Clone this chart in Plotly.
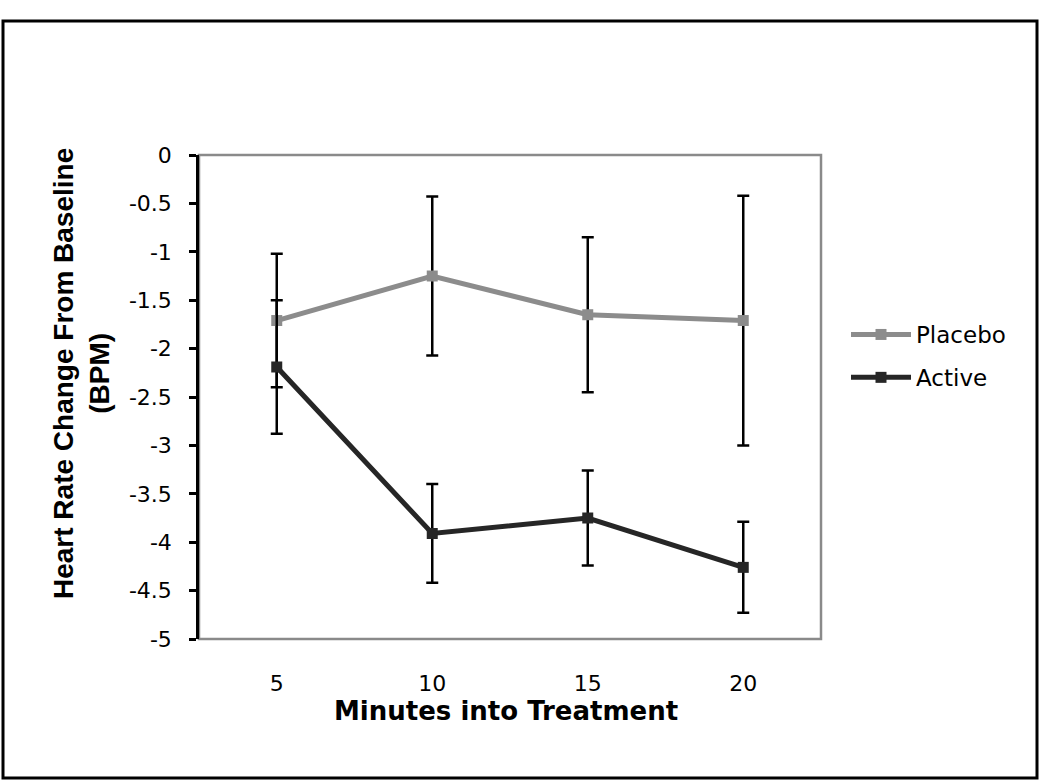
import plotly.graph_objects as go

minutes = [5, 10, 15, 20]
placebo = [-1.71, -1.25, -1.65, -1.71]
placebo_err = [0.69, 0.82, 0.80, 1.29]
active = [-2.19, -3.91, -3.75, -4.26]
active_err = [0.69, 0.51, 0.49, 0.47]
y_tickvals = [0, -0.5, -1, -1.5, -2, -2.5, -3, -3.5, -4, -4.5, -5]
y_ticktext = ["0", "-0.5", "-1", "-1.5", "-2", "-2.5", "-3", "-3.5", "-4", "-4.5", "-5"]
x_ticktext = ["5", "10", "15", "20"]

W, H = 1050, 781
ML, MR, MT, MB = 199, 229, 155, 142
PW, PH = W - ML - MR, H - MT - MB


def px(x):
    return (x - ML) / PW


def py(y):
    return (H - MB - y) / PH


fig = go.Figure()
fig.add_trace(go.Scatter(
    x=minutes, y=placebo, name="Placebo", mode="lines+markers",
    legendgroup="p",
    line=dict(color="#8c8c8c", width=5),
    marker=dict(symbol="square", size=11, color="#8c8c8c"),
    error_y=dict(type="data", array=placebo_err, visible=True,
                 color="black", thickness=2.5, width=6),
))
fig.add_trace(go.Scatter(
    x=minutes, y=active, name="Active", mode="lines+markers",
    legendgroup="a",
    line=dict(color="#262626", width=5),
    marker=dict(symbol="square", size=11, color="#262626"),
    error_y=dict(type="data", array=active_err, visible=True,
                 color="black", thickness=2.5, width=6),
))

fig.update_layout(
    width=W, height=H,
    margin=dict(l=ML, r=MR, t=MT, b=MB, pad=0),
    paper_bgcolor="white", plot_bgcolor="white",
    font=dict(family="DejaVu Sans", size=22, color="black"),
    showlegend=True,
    legend=dict(x=px(846), y=py(356), xanchor="left", yanchor="middle",
                font=dict(family="DejaVu Sans", size=23, color="black"),
                bgcolor="rgba(0,0,0,0)", itemwidth=60, tracegroupgap=10),
    xaxis=dict(range=[2.5, 22.5], tickvals=minutes, ticktext=x_ticktext,
               showgrid=False, zeroline=False, showline=False, ticks="",
               ticklabelstandoff=29,
               tickfont=dict(family="DejaVu Sans", size=22)),
    yaxis=dict(range=[-5, 0], tickvals=y_tickvals, ticktext=y_ticktext,
               showgrid=False, zeroline=False, showline=True,
               linecolor="black", linewidth=2.5,
               ticks="outside", ticklen=7, tickwidth=2.5, tickcolor="black",
               ticklabelstandoff=13,
               tickfont=dict(family="DejaVu Sans", size=22)),
    shapes=[
        dict(type="rect", xref="paper", yref="paper", x0=0, x1=1, y0=0, y1=1,
             line=dict(color="#8a8a8a", width=2.5), layer="below"),
        dict(type="rect", xref="paper", yref="paper",
             x0=px(3), x1=px(1037), y0=py(778), y1=py(21),
             line=dict(color="black", width=3), layer="below"),
    ],
    annotations=[
        dict(text="<b>Heart Rate Change From Baseline</b><br><b>(BPM)</b>",
             textangle=-90,
             xref="paper", yref="paper", x=px(81), y=py(374),
             xanchor="center", yanchor="middle", showarrow=False,
             font=dict(family="Liberation Sans", size=28, color="black")),
        dict(text="<b>Minutes into Treatment</b>",
             xref="paper", yref="paper", x=px(506), y=py(711),
             xanchor="center", yanchor="middle", showarrow=False,
             font=dict(family="DejaVu Sans", size=26, color="black")),
    ],
)

fig.write_html("out.html",
               config={"displayModeBar": False},
               post_script="document.body.style.margin='0';document.body.style.padding='0';")
